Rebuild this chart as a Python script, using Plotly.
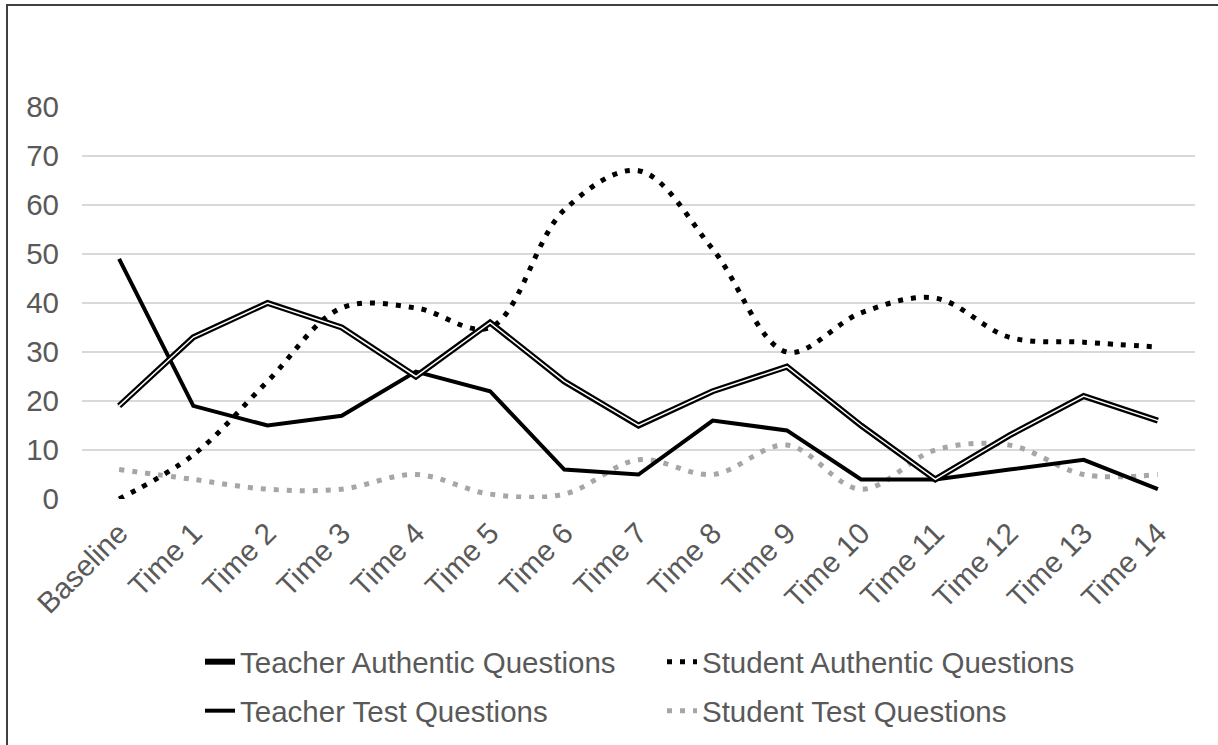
import plotly.graph_objects as go

categories = ["Baseline", "Time 1", "Time 2", "Time 3", "Time 4", "Time 5", "Time 6",
              "Time 7", "Time 8", "Time 9", "Time 10", "Time 11", "Time 12", "Time 13", "Time 14"]
teacher_authentic = [19, 33, 40, 35, 25, 36, 24, 15, 22, 27, 15, 4, 13, 21, 16]
student_authentic = [0, 9, 24, 39, 39, 35, 59, 67, 51, 30, 38, 41, 33, 32, 31]
teacher_test = [49, 19, 15, 17, 26, 22, 6, 5, 16, 14, 4, 4, 6, 8, 2]
student_test = [6, 4, 2, 2, 5, 1, 1, 8, 5, 11, 2, 10, 11, 5, 5]
y_ticks = [0, 10, 20, 30, 40, 50, 60, 70, 80]

FONT = "Liberation Sans, Arial, sans-serif"
TXT = "#595959"
FS = 29.5

fig = go.Figure()

fig.add_trace(go.Scatter(
    x=categories, y=student_test, name="Student Test Questions", mode="lines",
    line=dict(color="#A6A6A6", width=5, dash="5px,8px", shape="spline"),
    legend="legend2", legendrank=2))
fig.add_trace(go.Scatter(
    x=categories, y=student_authentic, name="Student Authentic Questions", mode="lines",
    line=dict(color="#000000", width=5, dash="5px,8px", shape="spline"),
    legend="legend", legendrank=2))
fig.add_trace(go.Scatter(
    x=categories, y=teacher_test, name="Teacher Test Questions", mode="lines",
    line=dict(color="#000000", width=4),
    legend="legend2", legendrank=1))
fig.add_trace(go.Scatter(
    x=categories, y=teacher_authentic, name="Teacher Authentic Questions", mode="lines",
    line=dict(color="#000000", width=6),
    legend="legend", legendrank=1))
fig.add_trace(go.Scatter(
    x=categories, y=teacher_authentic, name="Teacher Authentic Questions (inner)", mode="lines",
    line=dict(color="#FFFFFF", width=1.5), showlegend=False, hoverinfo="skip"))

L, R, T, B = 82, 23, 107, 246
W, H = 1218, 745
pw, ph = W - L - R, H - T - B

def px_x(x):
    return (x - L) / pw

def px_y(y):
    return (H - B - y) / ph

leg_common = dict(orientation="h", xanchor="left", yanchor="middle",
                  entrywidth=417, entrywidthmode="pixels",
                  font=dict(family=FONT, size=FS, color=TXT),
                  bgcolor="rgba(0,0,0,0)", traceorder="normal")

fig.update_layout(
    width=W, height=H,
    margin=dict(l=L, r=R, t=T, b=B, autoexpand=False),
    paper_bgcolor="white", plot_bgcolor="white",
    font=dict(family=FONT, size=FS, color=TXT),
    showlegend=True,
    legend=dict(x=px_x(200), y=px_y(662), **leg_common),
    legend2=dict(x=px_x(200), y=px_y(711), **leg_common),
    xaxis=dict(type="category", range=[-0.5, 14.5], tickangle=-45,
               showgrid=False, zeroline=False, showline=False, ticks="",
               tickfont=dict(family=FONT, size=FS, color=TXT),
               ticklabelstandoff=10, fixedrange=True),
    yaxis=dict(range=[0, 80], tickvals=y_ticks, showgrid=True, gridcolor="#D9D9D9",
               gridwidth=1.5, zeroline=False, showline=False, ticks="",
               tickfont=dict(family=FONT, size=FS, color=TXT),
               ticklabelstandoff=22, fixedrange=True),
    shapes=[dict(type="rect", xref="paper", yref="paper",
                 x0=px_x(7), x1=px_x(1240), y0=px_y(770), y1=px_y(5),
                 line=dict(color="#404040", width=2), fillcolor="rgba(0,0,0,0)",
                 layer="below")],
)

fig.write_html("out.html")
